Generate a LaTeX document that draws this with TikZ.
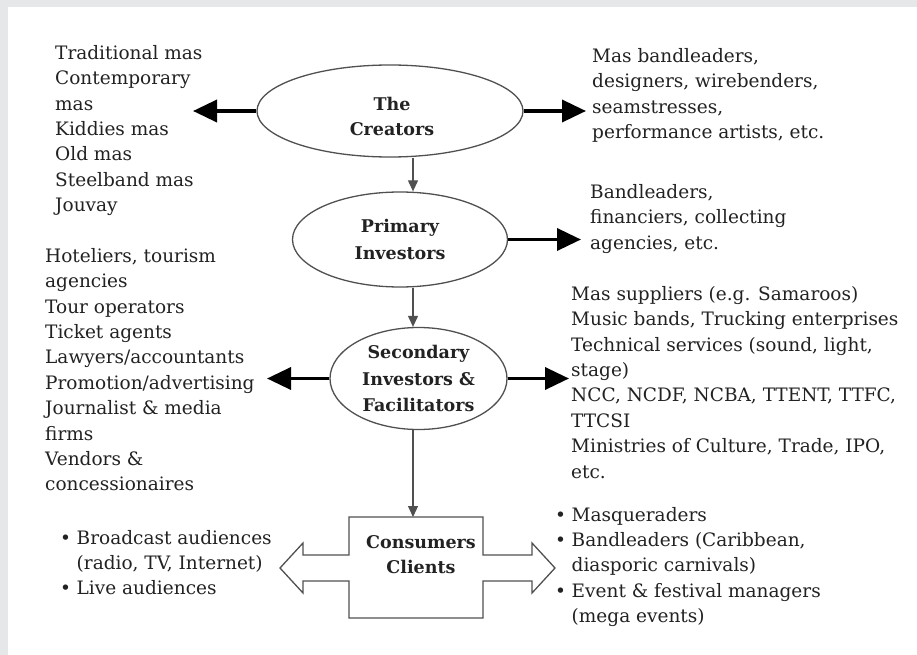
\documentclass[tikz,border=0pt]{standalone}
\usepackage{fontspec}
\setmainfont{DejaVu Serif}
\usetikzlibrary{arrows.meta,shapes.geometric}
\definecolor{bordergray}{HTML}{E6E7E9}
\definecolor{ink}{HTML}{222222}
\definecolor{linegray}{HTML}{505050}
\begin{document}
\begin{tikzpicture}[x=1pt,y=-1pt,
  txt/.style={anchor=north west, inner sep=0pt, align=left, text=ink,
    font=\fontsize{18.5}{25.4}\selectfont},
  oval/.style={ellipse, draw=linegray, line width=1.3pt, inner sep=-20pt,
    align=center, text=ink, font=\bfseries\fontsize{17.5}{26.5}\selectfont},
  boxtxt/.style={rectangle, inner sep=0pt, align=center, text=ink,
    font=\bfseries\fontsize{17.5}{25.5}\selectfont},
  thinarrow/.style={draw=linegray, line width=1.2pt,
    -{Triangle[length=11pt,width=10pt]}},
  bigarrow/.style={draw=black, line width=3.6pt,
    -{Triangle[length=24pt,width=22pt]}},
  hollow/.style={draw=linegray, line width=1.3pt, line join=miter},
]
% background and border
\fill[bordergray] (0,0) rectangle (917,655);
\fill[white] (8,7) rectangle (917,655);
\useasboundingbox (0,0) rectangle (917,655);

% ovals
\node[oval, minimum width=266pt, minimum height=92pt] (creators) at (390,111) {};
\node[boxtxt] (creatorstext) at (392,116.5) {The\\Creators};
\node[oval, minimum width=215pt, minimum height=95pt] (primary) at (400,239.5) {Primary\\Investors};
\node[oval, minimum width=177pt, minimum height=102pt] (secondary) at (418.5,378.5) {Secondary\\Investors \&\\Facilitators};

% consumers box (text node) and outline with hollow arrows
\node[boxtxt] (consumers) at (421,554.5) {Consumers\\Clients};
\coordinate (boxtop) at (413,517);
\draw[hollow] (349,517) -- (483,517) -- (483,555) -- (532,555) -- (532,543)
  -- (555,568) -- (532,593) -- (532,581) -- (483,581) -- (483,618)
  -- (349,618) -- (349,581) -- (303,581) -- (303,593) -- (280,568)
  -- (303,543) -- (303,555) -- (349,555) -- cycle;

% vertical connectors
\coordinate (vx) at (413,0);
\draw[thinarrow] (creators.south -| vx) -- (primary.north -| vx);
\draw[thinarrow] (primary.south -| vx) -- (secondary.north -| vx);
\draw[thinarrow] (secondary.south -| vx) -- (boxtop);

% thick side arrows
\coordinate (cl) at (193,111);
\coordinate (cr) at (586,111);
\coordinate (pr) at (581,239.5);
\coordinate (sl) at (267,378.5);
\coordinate (sr) at (569,378.5);
\draw[bigarrow] (creators.west) -- (cl);
\draw[bigarrow] (creators.east) -- (cr);
\draw[bigarrow] (primary.east) -- (pr);
\draw[bigarrow] (secondary.west) -- (sl);
\draw[bigarrow] (secondary.east) -- (sr);

% text blocks
\node[txt] (lt) at (55,45.1) {Traditional mas\\Contemporary\\mas\\Kiddies mas\\Old mas\\Steelband mas\\Jouvay};
\node[txt] (lm) at (45,248.1) {Hoteliers, tourism\\agencies\\Tour operators\\Ticket agents\\Lawyers/accountants\\Promotion/advertising\\Journalist \& media\\firms\\Vendors \&\\concessionaires};
\node[txt] (rt) at (592,48.1) {Mas bandleaders,\\designers, wirebenders,\\seamstresses,\\performance artists, etc.};
\node[txt] (rp) at (590,184.1) {Bandleaders,\\financiers, collecting\\agencies, etc.};
\node[txt] (rs) at (571,286.1) {Mas suppliers (e.g. Samaroos)\\Music bands, Trucking enterprises\\Technical services (sound, light,\\stage)\\NCC, NCDF, NCBA, TTENT, TTFC,\\TTCSI\\Ministries of Culture, Trade, IPO,\\etc.};
\node[txt] (lb) at (59.8,526.2) {\begin{tabular}{@{}l@{\hspace{5.8pt}}l@{}}\textbullet & Broadcast audiences\\ & (radio, TV, Internet)\\ \textbullet & Live audiences\end{tabular}};
\node[txt] (rb) at (554.8,503.2) {\begin{tabular}{@{}l@{\hspace{5.8pt}}l@{}}\textbullet & Masqueraders\\ \textbullet & Bandleaders (Caribbean,\\ & diasporic carnivals)\\ \textbullet & Event \& festival managers\\ & (mega events)\end{tabular}};
\end{tikzpicture}
\end{document}
